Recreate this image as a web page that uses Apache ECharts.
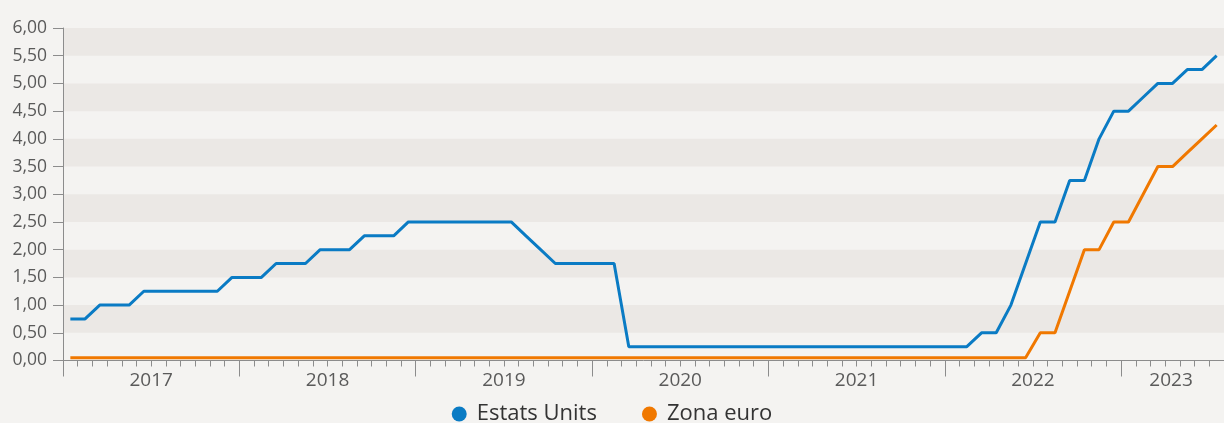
<!DOCTYPE html>
<html>
<head>
<meta charset="utf-8">
<script src="https://cdn.jsdelivr.net/npm/echarts@6/dist/echarts.min.js"></script>
<style>
html,body{margin:0;padding:0;background:#f4f3f1;}
#chart{width:1224px;height:423px;}
</style>
</head>
<body>
<div id="chart"></div>
<script>
// Monthly categories, Jan 2017 .. Jul 2023
var months = [
  '2017-01','2017-02','2017-03','2017-04','2017-05','2017-06','2017-07','2017-08','2017-09','2017-10','2017-11','2017-12',
  '2018-01','2018-02','2018-03','2018-04','2018-05','2018-06','2018-07','2018-08','2018-09','2018-10','2018-11','2018-12',
  '2019-01','2019-02','2019-03','2019-04','2019-05','2019-06','2019-07','2019-08','2019-09','2019-10','2019-11','2019-12',
  '2020-01','2020-02','2020-03','2020-04','2020-05','2020-06','2020-07','2020-08','2020-09','2020-10','2020-11','2020-12',
  '2021-01','2021-02','2021-03','2021-04','2021-05','2021-06','2021-07','2021-08','2021-09','2021-10','2021-11','2021-12',
  '2022-01','2022-02','2022-03','2022-04','2022-05','2022-06','2022-07','2022-08','2022-09','2022-10','2022-11','2022-12',
  '2023-01','2023-02','2023-03','2023-04','2023-05','2023-06','2023-07'
];

var estatsUnits = [
  0.75,0.75,1.00,1.00,1.00,1.25,1.25,1.25,1.25,1.25,1.25,1.50,
  1.50,1.50,1.75,1.75,1.75,2.00,2.00,2.00,2.25,2.25,2.25,2.50,
  2.50,2.50,2.50,2.50,2.50,2.50,2.50,2.25,2.00,1.75,1.75,1.75,
  1.75,1.75,0.25,0.25,0.25,0.25,0.25,0.25,0.25,0.25,0.25,0.25,
  0.25,0.25,0.25,0.25,0.25,0.25,0.25,0.25,0.25,0.25,0.25,0.25,
  0.25,0.25,0.50,0.50,1.00,1.75,2.50,2.50,3.25,3.25,4.00,4.50,
  4.50,4.75,5.00,5.00,5.25,5.25,5.50
];

var zonaEuro = [
  0.05,0.05,0.05,0.05,0.05,0.05,0.05,0.05,0.05,0.05,0.05,0.05,
  0.05,0.05,0.05,0.05,0.05,0.05,0.05,0.05,0.05,0.05,0.05,0.05,
  0.05,0.05,0.05,0.05,0.05,0.05,0.05,0.05,0.05,0.05,0.05,0.05,
  0.05,0.05,0.05,0.05,0.05,0.05,0.05,0.05,0.05,0.05,0.05,0.05,
  0.05,0.05,0.05,0.05,0.05,0.05,0.05,0.05,0.05,0.05,0.05,0.05,
  0.05,0.05,0.05,0.05,0.05,0.05,0.50,0.50,1.25,2.00,2.00,2.50,
  2.50,3.00,3.50,3.50,3.75,4.00,4.25
];

// Year labels and their positions (in months from Jan 2017)
var yearLabels = ['2017','2018','2019','2020','2021','2022','2023'];
var yearLabelPos = [6, 18, 30, 42, 54, 66, 75.4];
var yearTickPos = [0, 12, 24, 36, 48, 60, 72];

var seriesNames = ['Estats Units', 'Zona euro'];
var seriesColors = ['#0a7bc4', '#f07800'];

var FONT = '"Open Sans", Lato, sans-serif';
var AXIS_COLOR = '#8c8c8c';

var chart = echarts.init(document.getElementById('chart'), null, {renderer: 'canvas'});
chart.setOption({
  animation: false,
  backgroundColor: '#f4f3f1',
  grid: {left: 63, right: 0, top: 28, bottom: 62.5, containLabel: false},
  legend: {
    data: seriesNames,
    left: 'center',
    top: 398,
    icon: 'circle',
    itemWidth: 15,
    itemHeight: 15,
    itemGap: 45,
    textStyle: {fontFamily: FONT, fontSize: 22, fontWeight: 'normal', color: '#333', padding: [0, 0, 0, 5]}
  },
  xAxis: [
    {
      type: 'category',
      data: months,
      boundaryGap: true,
      axisLine: {show: true, lineStyle: {color: AXIS_COLOR, width: 1}},
      axisTick: {show: true, interval: 0, length: 6, lineStyle: {color: AXIS_COLOR}},
      axisLabel: {show: false},
      splitLine: {show: false}
    },
    {
      type: 'value',
      min: 0,
      max: months.length,
      position: 'bottom',
      axisLine: {show: false},
      axisTick: {show: true, length: 16, customValues: yearTickPos, lineStyle: {color: AXIS_COLOR}},
      axisLabel: {
        show: true,
        customValues: yearLabelPos,
        margin: 11,
        fontFamily: FONT,
        fontSize: 19,
        fontWeight: 'normal',
        color: '#5a5a5a',
        formatter: function (v) {
          var idx = yearLabelPos.indexOf(v);
          return idx >= 0 ? yearLabels[idx] : '';
        }
      },
      splitLine: {show: false}
    }
  ],
  yAxis: {
    type: 'value',
    min: 0,
    max: 6,
    interval: 0.5,
    axisLine: {show: true, lineStyle: {color: AXIS_COLOR, width: 1}},
    axisTick: {show: true, length: 10, lineStyle: {color: AXIS_COLOR}},
    axisLabel: {
      margin: 16,
      fontFamily: FONT,
      fontSize: 17.5,
      fontWeight: 'normal',
      color: '#5a5a5a',
      formatter: function (v) { return v.toFixed(2).replace('.', ','); }
    },
    splitLine: {show: false},
    splitArea: {show: true, areaStyle: {color: ['rgba(0,0,0,0)', '#ebe8e5']}}
  },
  series: [
    {
      name: seriesNames[0],
      type: 'line',
      data: estatsUnits,
      xAxisIndex: 0,
      showSymbol: false,
      symbol: 'circle',
      color: seriesColors[0],
      lineStyle: {width: 3, color: seriesColors[0]},
      z: 3
    },
    {
      name: seriesNames[1],
      type: 'line',
      data: zonaEuro,
      xAxisIndex: 0,
      showSymbol: false,
      symbol: 'circle',
      color: seriesColors[1],
      lineStyle: {width: 3, color: seriesColors[1]},
      z: 2
    }
  ]
});
</script>
</body>
</html>
